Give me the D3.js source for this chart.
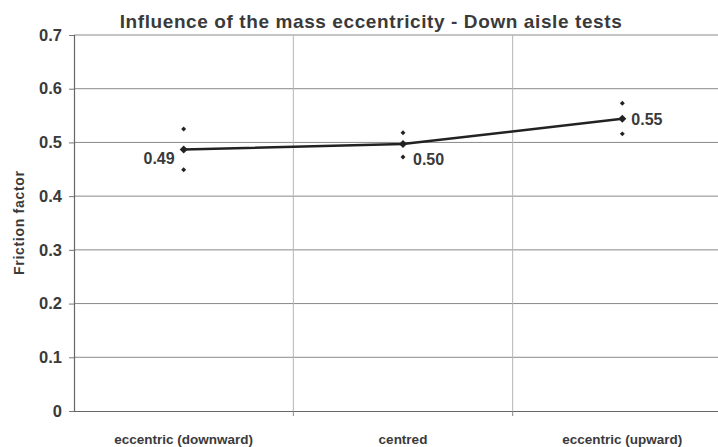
<!DOCTYPE html>
<html><head><meta charset="utf-8">
<script src="https://cdn.jsdelivr.net/npm/d3@7"></script>
<style>body{margin:0;background:#fff}svg{display:block}</style>
</head><body>
<svg id="c" width="718" height="447"></svg>
<script>
const categories = ["eccentric (downward)", "centred", "eccentric (upward)"];
const meanValues = [0.487, 0.497, 0.544];
const upperValues = [0.525, 0.518, 0.573];
const lowerValues = [0.449, 0.473, 0.516];
const valueLabels = ["0.49", "0.50", "0.55"];
const yTicks = [0, 0.1, 0.2, 0.3, 0.4, 0.5, 0.6, 0.7];

(function () {
const svg = d3.select("#c");
const pL = 74, pR = 732, pT = 35, pB = 411;
const x = d3.scaleBand().domain(categories).range([pL, pR]);
const y = d3.scaleLinear().domain([0, 0.7]).range([pB, pT]);
const FONT = "Liberation Sans, Arial, sans-serif";
const TXT = "#3a3a3a";

svg.append("g").selectAll("line").data(yTicks.filter(d => d > 0)).join("line")
  .attr("x1", pL).attr("x2", pR).attr("y1", d => y(d)).attr("y2", d => y(d))
  .attr("stroke", "#8a8a8a").attr("stroke-width", 1);
svg.append("g").selectAll("line").data(categories.slice(1)).join("line")
  .attr("x1", d => x(d)).attr("x2", d => x(d)).attr("y1", pT).attr("y2", pB)
  .attr("stroke", "#b5b5b5").attr("stroke-width", 1);

const yAxis = svg.append("g").attr("transform", `translate(${pL},0)`)
  .call(d3.axisLeft(y).tickValues(yTicks).tickFormat(d => d === 0 ? "0" : d3.format(".1f")(d)).tickSize(5).tickPadding(7));
yAxis.select(".domain").attr("stroke", "#666").attr("stroke-width", 1.2);
yAxis.selectAll(".tick line").attr("stroke", "#777");
yAxis.selectAll("text").attr("font-family", FONT)
  .attr("font-size", 16.5).attr("font-weight", "bold").attr("fill", TXT);

const xAxis = svg.append("g").attr("transform", `translate(0,${pB})`)
  .call(d3.axisBottom(x).tickSize(0).tickPadding(23));
xAxis.select(".domain").attr("stroke", "#666").attr("stroke-width", 1.2);
xAxis.selectAll("text").attr("font-family", FONT)
  .attr("font-size", 13.5).attr("font-weight", "bold").attr("fill", TXT);
svg.append("g").selectAll("line").data(categories.slice(1)).join("line")
  .attr("x1", d => x(d)).attr("x2", d => x(d)).attr("y1", pB).attr("y2", pB + 5)
  .attr("stroke", "#888");

const cx = d => x(d) + x.bandwidth() / 2;

svg.append("path").datum(categories)
  .attr("d", d3.line().x(d => cx(d)).y((d, i) => y(meanValues[i])))
  .attr("fill", "none").attr("stroke", "#222").attr("stroke-width", 2.5);

const sq = d3.symbol().type(d3.symbolSquare);
svg.append("g").selectAll("path").data(categories).join("path")
  .attr("transform", (d, i) => `translate(${cx(d)},${y(meanValues[i])}) rotate(45)`)
  .attr("d", sq.size(32)()).attr("fill", "#222");
svg.append("g").selectAll("path").data(categories).join("path")
  .attr("transform", (d, i) => `translate(${cx(d)},${y(upperValues[i])}) rotate(45)`)
  .attr("d", sq.size(12)()).attr("fill", "#222");
svg.append("g").selectAll("path").data(categories).join("path")
  .attr("transform", (d, i) => `translate(${cx(d)},${y(lowerValues[i])}) rotate(45)`)
  .attr("d", sq.size(12)()).attr("fill", "#222");

const lblPos = [{dx: -9, dy: 15, a: "end"}, {dx: 10, dy: 21, a: "start"}, {dx: 9, dy: 6, a: "start"}];
svg.append("g").selectAll("text").data(categories).join("text")
  .attr("x", (d, i) => cx(d) + lblPos[i].dx)
  .attr("y", (d, i) => y(meanValues[i]) + lblPos[i].dy)
  .attr("text-anchor", (d, i) => lblPos[i].a)
  .attr("font-family", FONT)
  .attr("font-size", 16).attr("font-weight", "bold").attr("fill", TXT)
  .text((d, i) => valueLabels[i]);

svg.append("text").attr("x", 371).attr("y", 28).attr("text-anchor", "middle")
  .attr("font-family", FONT)
  .attr("font-size", 19).attr("font-weight", "bold").attr("fill", TXT)
  .attr("letter-spacing", 0.6)
  .text("Influence of the mass eccentricity - Down aisle tests");

svg.append("text").attr("transform", "translate(24,223) rotate(-90)").attr("text-anchor", "middle")
  .attr("font-family", FONT)
  .attr("font-size", 14).attr("font-weight", "bold").attr("fill", TXT)
  .attr("textLength", 104).attr("lengthAdjust", "spacing")
  .text("Friction factor");
})();
</script>
</body></html>
